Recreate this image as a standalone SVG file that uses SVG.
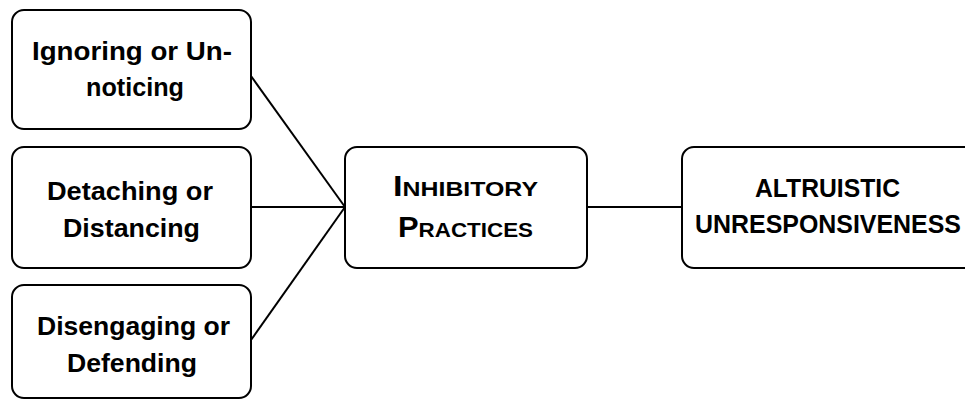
<svg xmlns="http://www.w3.org/2000/svg" width="965" height="400" viewBox="0 0 965 400">
<style>
.box{fill:#fff;stroke:#000;stroke-width:2}
.t{font-family:"Liberation Sans",Arial,sans-serif;font-weight:bold;font-size:25.5px;fill:#000;text-anchor:middle}
.sc{font-size:21px}
.big{font-size:29px}
.con{stroke:#000;stroke-width:2;fill:none}
</style>
<rect width="965" height="400" fill="#fff"/>
<g id="connectors">
<line class="con" x1="251" y1="76" x2="345" y2="207"/>
<line class="con" x1="251" y1="207" x2="345" y2="207"/>
<line class="con" x1="251" y1="340" x2="345" y2="207"/>
<line class="con" x1="587" y1="207" x2="682" y2="207"/>
</g>
<g id="n1">
<rect class="box" x="12" y="10" width="239" height="119" rx="12"/>
<text class="t" x="132" y="60" textLength="200" lengthAdjust="spacingAndGlyphs">Ignoring or Un-</text>
<text class="t" x="135" y="96" textLength="98" lengthAdjust="spacingAndGlyphs">noticing</text>
</g>
<g id="n2">
<rect class="box" x="12" y="147" width="239" height="121" rx="12"/>
<text class="t" x="130" y="200" textLength="166" lengthAdjust="spacingAndGlyphs">Detaching or</text>
<text class="t" x="131.5" y="237" textLength="137" lengthAdjust="spacingAndGlyphs">Distancing</text>
</g>
<g id="n3">
<rect class="box" x="12" y="285" width="239" height="113" rx="12"/>
<text class="t" x="133.5" y="335" textLength="193" lengthAdjust="spacingAndGlyphs">Disengaging or</text>
<text class="t" x="132" y="372" textLength="130" lengthAdjust="spacingAndGlyphs">Defending</text>
</g>
<g id="n4">
<rect class="box" x="345" y="147" width="242" height="121" rx="12"/>
<text class="t" x="465.5" y="196" textLength="145" lengthAdjust="spacingAndGlyphs"><tspan class="big">I</tspan><tspan class="sc">NHIBITORY</tspan></text>
<text class="t" x="465.5" y="237" textLength="135" lengthAdjust="spacingAndGlyphs"><tspan class="big">P</tspan><tspan class="sc">RACTICES</tspan></text>
</g>
<g id="n5">
<rect class="box" x="682" y="147" width="310" height="121" rx="12"/>
<text class="t" x="827.5" y="197" textLength="145" lengthAdjust="spacingAndGlyphs">ALTRUISTIC</text>
<text class="t" x="828" y="233" textLength="266" lengthAdjust="spacingAndGlyphs">UNRESPONSIVENESS</text>
</g>
</svg>
